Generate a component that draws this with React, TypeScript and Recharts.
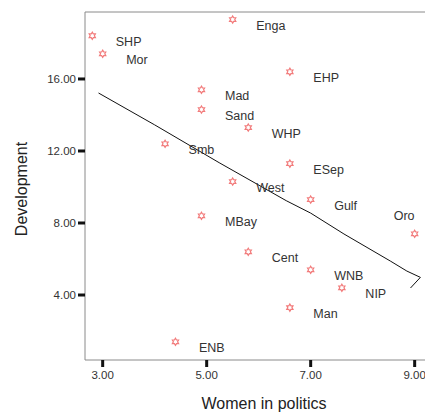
import { ScatterChart, Scatter, XAxis, YAxis, ReferenceLine } from "recharts";

const provinces = ["SHP", "Mor", "Enga", "EHP", "Mad", "Sand", "WHP", "Smb", "ESep", "West", "Gulf", "MBay", "Oro", "Cent", "WNB", "NIP", "Man", "ENB"];
const womenInPolitics = [2.8, 3.0, 5.5, 6.6, 4.9, 4.9, 5.8, 4.2, 6.6, 5.5, 7.0, 4.9, 9.0, 5.8, 7.0, 7.6, 6.6, 4.4];
const development = [18.4, 17.4, 19.3, 16.4, 15.4, 14.3, 13.3, 12.4, 11.3, 10.3, 9.3, 8.4, 7.4, 6.4, 5.4, 4.4, 3.3, 1.4];

// fit line (keeps the little hook at the end)
const fitX = [2.92, 4.0, 5.24, 6.53, 7.0, 7.64, 8.53, 8.85, 9.11, 8.92];
const fitY = [15.22, 13.45, 11.35, 9.24, 8.55, 7.39, 5.89, 5.33, 4.98, 4.39];

const xTicks = [3, 5, 7, 9];
const yTicks = [4, 8, 12, 16];
const xDomain = [2.66, 9.545];
const yDomain = [0.39, 19.72];

// labels that sit up and to the left of their marker
const labelsAbove = ["Oro"];

const points = provinces.map((name, i) => ({ name, x: womenInPolitics[i], y: development[i] }));
const fitLine = fitX.map((x, i) => ({ x, y: fitY[i] }));

function starPath(cx: number, cy: number) {
  const pts: string[] = [];
  for (let k = 0; k < 12; k++) {
    const r = k % 2 === 0 ? 3.6 : 2.1;
    const a = (Math.PI / 6) * k - Math.PI / 2;
    pts.push(`${(cx + r * Math.cos(a)).toFixed(2)},${(cy + r * Math.sin(a)).toFixed(2)}`);
  }
  return pts.join(" ");
}

const PointMark = (props: any) => {
  const { cx, cy, payload } = props;
  const above = labelsAbove.includes(payload.name);
  return (
    <g>
      <polygon points={starPath(cx, cy)} fill="#fff" stroke="#f27b7b" strokeWidth={1.2} />
      <text
        x={above ? cx - 21 : cx + 23.5}
        y={above ? cy - 17.6 : cy + 6.3}
        dominantBaseline="central"
        fontSize={12.5}
        fill="#333"
      >
        {payload.name}
      </text>
    </g>
  );
};

export default function App() {
  return (
    <div style={{ position: "absolute", left: 0, top: 0, width: 425, height: 414, overflow: "hidden", background: "#fff" }}>
      <ScatterChart
        width={443}
        height={414}
        margin={{ top: 12, right: 0, bottom: 0, left: 0 }}
        style={{ fontFamily: "'Liberation Sans', Arial, sans-serif" }}
      >
        <XAxis
          type="number"
          dataKey="x"
          domain={xDomain}
          ticks={xTicks}
          allowDataOverflow
          height={54}
          tickFormatter={(v: number) => v.toFixed(2)}
          tick={{ fill: "#333", fontSize: 11.5 }}
          axisLine={{ stroke: "#8a8a8a", strokeWidth: 1 }}
          tickLine={{ stroke: "#111", strokeWidth: 3 }}
          tickSize={7}
          tickMargin={4}
          label={{
            content: () => (
              <text x={264} y={409} textAnchor="middle" fontSize={16} fill="#222">
                Women in politics
              </text>
            ),
          }}
        />
        <YAxis
          type="number"
          dataKey="y"
          domain={yDomain}
          ticks={yTicks}
          allowDataOverflow
          width={85}
          tickFormatter={(v: number) => v.toFixed(2)}
          tick={{ fill: "#333", fontSize: 11.5 }}
          axisLine={{ stroke: "#8a8a8a", strokeWidth: 1 }}
          tickLine={{ stroke: "#111", strokeWidth: 3 }}
          tickSize={7}
          tickMargin={2}
          label={{
            content: () => (
              <text
                x={21}
                y={189}
                transform="rotate(-90 21 189)"
                textAnchor="middle"
                dominantBaseline="central"
                fontSize={16}
                fill="#222"
              >
                Development
              </text>
            ),
          }}
        />
        <ReferenceLine y={yDomain[1]} stroke="#8a8a8a" strokeWidth={1} />
        <Scatter
          data={fitLine}
          line={{ stroke: "#111", strokeWidth: 1 }}
          lineJointType="linear"
          shape={() => <g />}
          isAnimationActive={false}
        />
        <Scatter data={points} shape={PointMark} isAnimationActive={false} />
      </ScatterChart>
    </div>
  );
}
